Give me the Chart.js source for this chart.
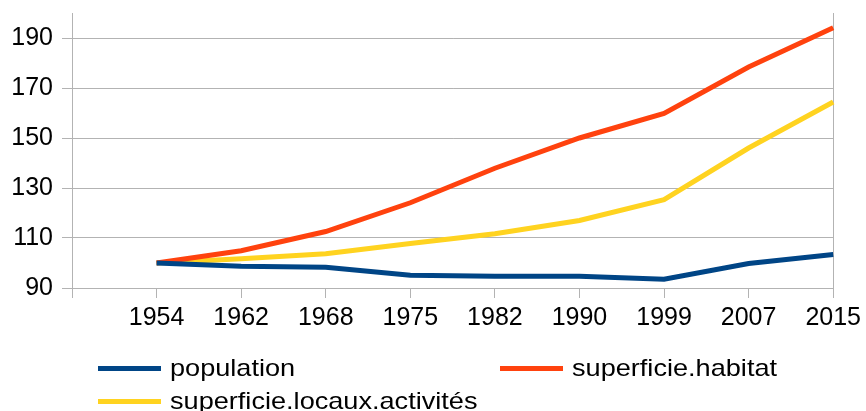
<!DOCTYPE html>
<html>
<head>
<meta charset="utf-8">
<script src="https://cdn.jsdelivr.net/npm/chart.js@4/dist/chart.umd.min.js"></script>
<style>
  html, body { margin: 0; padding: 0; background: #fff; }
  #wrap { position: relative; width: 866px; height: 411px; }
  #legend { position: absolute; left: 0; top: 0; width: 866px; height: 411px; pointer-events: none;
            font-family: "Liberation Sans", Arial, sans-serif; font-size: 24px; color: #000; }
  .item { position: absolute; display: flex; align-items: center; white-space: nowrap; }
  .swatch { width: 63px; height: 5px; margin-right: 9px; }
  .label { display: inline-block; transform: scaleX(1.13); transform-origin: left center; }
</style>
</head>
<body>
<div id="wrap">
  <canvas id="chart" width="866" height="411"></canvas>
  <div id="legend"></div>
</div>
<script>
// data (index, 1954 = 100)
const years = ['', '1954', '1962', '1968', '1975', '1982', '1990', '1999', '2007', '2015'];
const population = [null, 100, 98.7, 98.3, 95.1, 94.7, 94.7, 93.5, 99.8, 103.4];
const habitat = [null, 100, 104.9, 112.6, 124.1, 137.9, 150, 159.8, 178.4, 194.1];
const locaux = [null, 100, 101.7, 103.7, 107.8, 111.7, 117, 125.3, 146, 164.4];
const seriesNames = ['population', 'superficie.habitat', 'superficie.locaux.activités'];
const colors = ['#004586', '#ff420e', '#ffd320'];

const gridColor = '#b3b3b3';
const font = { family: '"Liberation Sans", Arial, sans-serif', size: 25 };

const ctx = document.getElementById('chart').getContext('2d');
const chart = new Chart(ctx, {
    type: 'line',
    data: {
        labels: years,
        datasets: [population, habitat, locaux].map((d, i) => ({
            label: seriesNames[i],
            data: d,
            borderColor: colors[i],
            backgroundColor: colors[i],
            borderWidth: 5,
            pointRadius: 0,
            tension: 0
        }))
    },
    options: {
        responsive: false,
        animation: false,
        layout: { padding: { top: 13, right: 30, left: 0, bottom: 78 } },
        plugins: {
            legend: { display: false },
            tooltip: { enabled: false }
        },
        scales: {
            x: {
                offset: false,
                grid: {
                    color: (c) => (c.index === years.length - 1 ? gridColor : 'transparent'),
                    tickColor: gridColor,
                    tickLength: 10,
                    drawTicks: true
                },
                border: { color: gridColor },
                ticks: { color: '#000', font: font, padding: 5, maxRotation: 0, autoSkip: false },
                afterFit: (s) => { s.height = 45; }
            },
            y: {
                min: 90,
                max: 200,
                grid: { color: gridColor, tickColor: gridColor, tickLength: 10 },
                border: { color: gridColor },
                ticks: {
                    stepSize: 10,
                    color: '#000',
                    font: font,
                    padding: 9,
                    callback: (v) => ((v - 90) % 20 === 0 && v < 200 ? v : '')
                },
                afterFit: (s) => { s.width = 72; s.paddingTop = 0; s.paddingBottom = 0; }
            }
        }
    }
});

// legend laid out like the reference: two columns, wrapping
const legendPos = [[98, 368], [500, 368], [98, 401]];
const legend = document.getElementById('legend');
seriesNames.forEach((name, i) => {
    const el = document.createElement('div');
    el.className = 'item';
    el.style.left = legendPos[i][0] + 'px';
    el.style.top = (legendPos[i][1] - 14) + 'px';
    el.style.height = '28px';
    el.innerHTML = '<span class="swatch" style="background:' + colors[i] + '"></span><span class="label">' + name + '</span>';
    legend.appendChild(el);
});
</script>
</body>
</html>
